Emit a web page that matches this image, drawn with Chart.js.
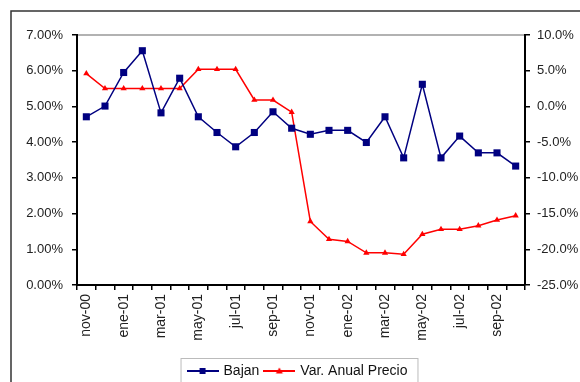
<!DOCTYPE html>
<html>
<head>
<meta charset="utf-8">
<script src="https://cdn.jsdelivr.net/npm/chart.js@4/dist/chart.umd.min.js"></script>
<style>
html,body{margin:0;padding:0;background:#fff;}
canvas{display:block;}
</style>
</head>
<body>
<canvas id="c" width="580" height="382"></canvas>
<script>
// ---- data ----
const months = ['nov-00','dic-00','ene-01','feb-01','mar-01','abr-01','may-01','jun-01','jul-01','ago-01','sep-01','oct-01',
                'nov-01','dic-01','ene-02','feb-02','mar-02','abr-02','may-02','jun-02','jul-02','ago-02','sep-02','oct-02'];
const bajan = [4.71,5.01,5.95,6.56,4.82,5.79,4.71,4.27,3.87,4.27,4.85,4.39,
               4.22,4.33,4.33,3.99,4.71,3.56,5.62,3.56,4.17,3.70,3.70,3.33];
const varAnualPrecio = [4.6,2.5,2.5,2.5,2.5,2.5,5.2,5.2,5.2,0.9,0.9,-0.8,
                        -16.1,-18.6,-18.9,-20.5,-20.5,-20.7,-17.9,-17.2,-17.2,-16.7,-15.9,-15.3];
const seriesNames = ['Bajan','Var. Anual Precio'];
const leftTicks = [0,1,2,3,4,5,6,7];
const rightTicks = [-25,-20,-15,-10,-5,0,5,10];

const BLUE = '#000080', RED = '#ff0000';

function makeIcon(color, kind){
  const cv = document.createElement('canvas');
  cv.width = 32; cv.height = 10;
  const g = cv.getContext('2d');
  g.strokeStyle = color; g.lineWidth = 2;
  g.beginPath(); g.moveTo(0,5); g.lineTo(32,5); g.stroke();
  g.fillStyle = color;
  if (kind === 'rect') { g.fillRect(13,2,6,6); }
  else { g.beginPath(); g.moveTo(16,1.5); g.lineTo(19.5,7.5); g.lineTo(12.5,7.5); g.closePath(); g.fill(); }
  return cv;
}
const icons = [makeIcon(BLUE,'rect'), makeIcon(RED,'tri')];

Chart.defaults.font.family = "'Liberation Sans', Arial, sans-serif";
Chart.defaults.font.size = 13;
Chart.defaults.color = '#222';

const framePlugin = {
  id: 'frame',
  beforeDraw(chart){
    const ctx = chart.ctx;
    ctx.save();
    ctx.strokeStyle = '#333'; ctx.lineWidth = 1.5;
    ctx.beginPath();
    ctx.moveTo(11, 382); ctx.lineTo(11, 11); ctx.lineTo(580, 11);
    ctx.stroke();
    const a = chart.chartArea;
    ctx.strokeStyle = '#999'; ctx.lineWidth = 1.5;
    ctx.beginPath(); ctx.moveTo(a.left, a.top); ctx.lineTo(a.right, a.top); ctx.stroke();
    ctx.restore();
  },
  afterLayout(chart){
    const lg = chart.legend;
    if (lg) { lg.top += 6; lg.bottom += 6; lg.left += 8; lg.right += 8; }
  },
  afterDraw(chart){
    const lg = chart.legend;
    if (!lg || !lg.legendHitBoxes || !lg.legendHitBoxes.length) return;
    const hb = lg.legendHitBoxes;
    const l = hb[0].left - 8, r = hb[hb.length-1].left + hb[hb.length-1].width + 10;
    const t = hb[0].top - 6;
    const ctx = chart.ctx;
    ctx.save();
    ctx.strokeStyle = '#bbb'; ctx.lineWidth = 1;
    ctx.strokeRect(l + 0.5, t + 0.5, r - l, 40);
    ctx.restore();
  }
};

new Chart(document.getElementById('c'), {
  type: 'line',
  data: {
    labels: months,
    datasets: [
      { label: seriesNames[0], data: bajan, yAxisID: 'y',
        borderColor: BLUE, backgroundColor: BLUE, borderWidth: 1.5,
        pointStyle: 'rect', pointRadius: 5, pointBackgroundColor: BLUE, pointBorderColor: BLUE, pointBorderWidth: 0,
        tension: 0 },
      { label: seriesNames[1], data: varAnualPrecio, yAxisID: 'y1',
        borderColor: RED, backgroundColor: RED, borderWidth: 1.5,
        pointStyle: 'triangle', pointRadius: 3.6, pointBackgroundColor: RED, pointBorderColor: RED, pointBorderWidth: 0,
        tension: 0 }
    ]
  },
  options: {
    responsive: false,
    animation: false,
    devicePixelRatio: 1,
    layout: { padding: { top: 35, left: 0, right: 0, bottom: 0 } },
    plugins: {
      tooltip: { enabled: false },
      legend: {
        position: 'bottom',
        labels: {
          usePointStyle: true, pointStyleWidth: 28, padding: 6,
          font: { size: 14 }, color: '#111',
          generateLabels: (chart) => chart.data.datasets.map((ds, i) => ({
            text: ds.label, pointStyle: icons[i], fillStyle: ds.borderColor,
            strokeStyle: ds.borderColor, lineWidth: 0, hidden: false, datasetIndex: i, fontColor: '#111'
          }))
        }
      }
    },
    scales: {
      x: {
        offset: true,
        grid: { offset: true, drawOnChartArea: false, drawTicks: true, tickLength: 5, color: '#000', lineWidth: 1.5 },
        border: { display: true, color: '#000', width: 2 },
        ticks: { autoSkip: false, minRotation: 90, maxRotation: 90, padding: 4, font: { size: 14 },
                 callback: (v, i) => (i % 2 === 0 ? months[i] : '') },
        afterFit: (s) => { s.height = 67; }
      },
      y: {
        position: 'left', min: 0, max: 7,
        afterBuildTicks: (s) => { s.ticks = leftTicks.map(v => ({ value: v })); },
        grid: { drawOnChartArea: false, drawTicks: true, tickLength: 5, color: '#000', lineWidth: 1.5 },
        border: { display: true, color: '#000', width: 2 },
        ticks: { padding: 9, callback: (v) => v.toFixed(2) + '%' },
        afterFit: (s) => { s.width = 77; }
      },
      y1: {
        position: 'right', min: -25, max: 10,
        afterBuildTicks: (s) => { s.ticks = rightTicks.map(v => ({ value: v })); },
        grid: { drawOnChartArea: false, drawTicks: true, tickLength: 5, color: '#000', lineWidth: 1.5 },
        border: { display: true, color: '#000', width: 2 },
        ticks: { padding: 7, callback: (v) => v.toFixed(1) + '%' },
        afterFit: (s) => { s.width = 55; }
      }
    }
  },
  plugins: [framePlugin]
});
</script>
</body>
</html>
